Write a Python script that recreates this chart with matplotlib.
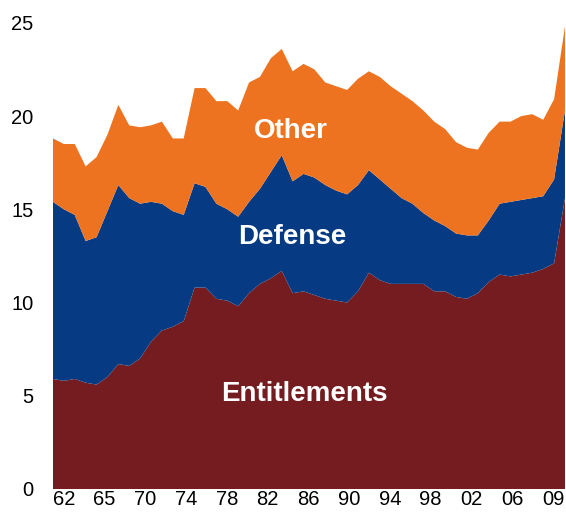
import numpy as np
import matplotlib
matplotlib.use("Agg")
import matplotlib.pyplot as plt

plt.rcParams['font.family'] = ['Liberation Sans', 'DejaVu Sans']

years = list(range(1962, 2010))  # fiscal years 1962-2009

# share of GDP (%)
entitlements = [5.9, 5.8, 5.9, 5.7, 5.6, 6.0, 6.7, 6.6, 7.0, 7.9,
                8.5, 8.7, 9.0, 10.8, 10.8, 10.2, 10.1, 9.8, 10.5, 11.0,
                11.3, 11.7, 10.5, 10.6, 10.4, 10.2, 10.1, 10.0, 10.6, 11.6,
                11.2, 11.0, 11.0, 11.0, 11.0, 10.6, 10.6, 10.3, 10.2, 10.5,
                11.1, 11.5, 11.4, 11.5, 11.6, 11.8, 12.1, 15.6]
defense_top = [15.4, 15.0, 14.7, 13.3, 13.5, 14.9, 16.3, 15.6, 15.3, 15.4,
               15.3, 14.9, 14.7, 16.4, 16.2, 15.3, 15.0, 14.6, 15.4, 16.1,
               17.0, 17.9, 16.5, 16.9, 16.7, 16.3, 16.0, 15.8, 16.3, 17.1,
               16.6, 16.1, 15.6, 15.3, 14.8, 14.4, 14.1, 13.7, 13.6, 13.6,
               14.4, 15.3, 15.4, 15.5, 15.6, 15.7, 16.6, 20.3]
total = [18.8, 18.5, 18.5, 17.3, 17.8, 19.0, 20.6, 19.5, 19.4, 19.5,
         19.7, 18.8, 18.8, 21.5, 21.5, 20.8, 20.8, 20.3, 21.8, 22.1,
         23.1, 23.6, 22.4, 22.8, 22.5, 21.8, 21.6, 21.4, 22.0, 22.4,
         22.1, 21.6, 21.2, 20.8, 20.3, 19.7, 19.3, 18.6, 18.3, 18.2,
         19.1, 19.7, 19.7, 20.0, 20.1, 19.8, 20.9, 24.8]

defense = np.array(defense_top) - np.array(entitlements)
other = np.array(total) - np.array(defense_top)

tick_labels = ['62', '65', '70', '74', '78', '82', '86', '90', '94', '98', '02', '06', '09']
y_ticks = [0, 5, 10, 15, 20, 25]

fig = plt.figure(figsize=(5.66, 5.13), dpi=100)
ax = fig.add_axes([0.0936, 0.0468, 0.9046, 0.916])

ax.stackplot(years, entitlements, defense, other,
             colors=['#741C20', '#063A82', '#EE7320'], linewidth=0)

ax.set_xlim(1962, 2009)
ax.set_ylim(0, 25.2)
ax.set_xticks(np.linspace(1963.0, 2007.9, len(tick_labels)))
ax.set_xticklabels(tick_labels)
ax.set_yticks(y_ticks)
ax.tick_params(axis='both', length=0, labelsize=14.5, colors='black')
ax.tick_params(axis='y', pad=14)
ax.tick_params(axis='x', pad=1)
for s in ax.spines.values():
    s.set_visible(False)

ax.text(1983.8, 19.2, 'Other', color='white', fontsize=20, fontweight='bold', ha='center', va='center')
ax.text(1984.0, 13.5, 'Defense', color='white', fontsize=20, fontweight='bold', ha='center', va='center')
ax.text(1985.1, 5.1, 'Entitlements', color='white', fontsize=20, fontweight='bold', ha='center', va='center')

fig.savefig('out.png', dpi=100)
